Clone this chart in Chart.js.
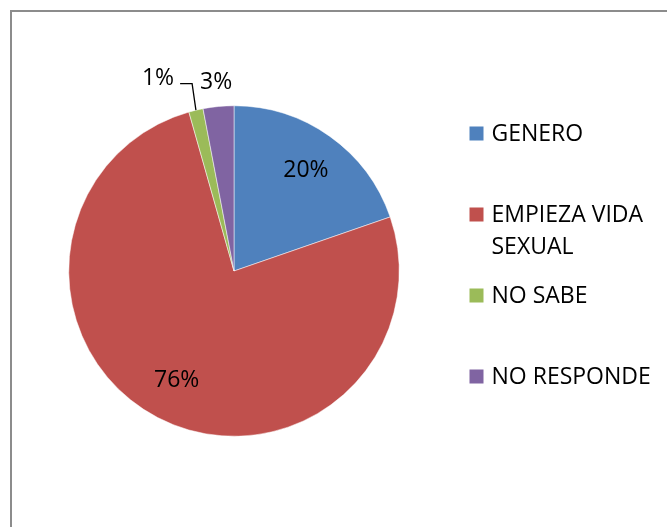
<!DOCTYPE html>
<html>
<head>
<meta charset="utf-8">
<script src="https://cdn.jsdelivr.net/npm/chart.js@4/dist/chart.umd.min.js"></script>
<style>
  html, body { margin: 0; padding: 0; background: #fff; overflow: hidden; }
  #wrap { position: relative; width: 667px; height: 527px; }
  #frame {
    position: absolute; left: 10px; top: 10px; width: 720px; height: 600px;
    border: 2px solid #8c8c8c; box-sizing: border-box;
  }
  canvas { position: absolute; left: 0; top: 0; }
</style>
</head>
<body>
<div id="wrap">
  <div id="frame"></div>
  <canvas id="chart" width="667" height="527" aria-label="Pie chart" role="img"></canvas>
</div>
<script>
const categories = ['GENERO', 'EMPIEZA VIDA SEXUAL', 'NO SABE', 'NO RESPONDE'];
const shares = [19.7, 75.9, 1.4, 3.0];
const colors = ['#4f81bd', '#c0504d', '#9bbb59', '#8064a2'];

const FONT = '23px "Open Sans", "Noto Sans", sans-serif';

const wrapText = (ctx, text, maxWidth) => {
  const words = text.split(' ');
  const lines = [];
  let line = '';
  words.forEach((w) => {
    const test = line ? line + ' ' + w : w;
    if (line && ctx.measureText(test).width > maxWidth) {
      lines.push(line);
      line = w;
    } else {
      line = test;
    }
  });
  if (line) lines.push(line);
  return lines;
};

// percentage labels, inside for big slices and outside (with leader) for tiny ones
const sliceLabels = {
  id: 'sliceLabels',
  afterDatasetsDraw(chart) {
    const ctx = chart.ctx;
    const data = chart.data.datasets[0].data;
    const total = data.reduce((a, b) => a + b, 0);
    const arcs = chart.getDatasetMeta(0).data;
    const placed = [];
    ctx.save();
    ctx.font = FONT;
    ctx.fillStyle = '#000';
    ctx.textAlign = 'center';
    ctx.textBaseline = 'middle';
    // walk backwards so the later tiny slice keeps its spot
    for (let i = arcs.length - 1; i >= 0; i--) {
      const { x, y, startAngle, endAngle, outerRadius } =
        arcs[i].getProps(['x', 'y', 'startAngle', 'endAngle', 'outerRadius'], true);
      const mid = (startAngle + endAngle) / 2;
      const pct = data[i] / total * 100;
      const text = Math.round(pct) + '%';
      if (pct >= 5) {
        const r = outerRadius * 0.75;
        ctx.fillText(text, x + Math.cos(mid) * r, y + Math.sin(mid) * r);
        continue;
      }
      const r = outerRadius + 24;
      let lx = x + Math.cos(mid) * r;
      let ly = y + Math.sin(mid) * r;
      const w = ctx.measureText(text).width;
      let moved = false;
      placed.forEach((b) => {
        if (Math.abs(ly - b.y) < 24 && lx + w / 2 > b.left - 20) {
          lx = b.left - 26 - w / 2;
          ly = b.y - 4;
          moved = true;
        }
      });
      ctx.fillText(text, lx, ly);
      placed.push({ left: lx - w / 2, y: ly });
      if (moved) {
        const ex = x + Math.cos(mid) * outerRadius;
        const ey = y + Math.sin(mid) * outerRadius;
        const sx = lx + w / 2 + 6;
        ctx.beginPath();
        ctx.strokeStyle = '#000';
        ctx.lineWidth = 1.3;
        ctx.moveTo(sx, ly + 5);
        ctx.lineTo(sx + 12, ly + 5);
        ctx.lineTo(ex, ey);
        ctx.stroke();
      }
    }
    ctx.restore();
  },
};

// legend on the right, one entry every 81px, wrapped text
const sideLegend = {
  id: 'sideLegend',
  afterDraw(chart) {
    const ctx = chart.ctx;
    const area = chart.chartArea;
    const boxX = area.right + 70;
    const textX = boxX + 22;
    let cy = area.top + 28;
    ctx.save();
    ctx.font = FONT;
    ctx.textAlign = 'left';
    ctx.textBaseline = 'middle';
    chart.data.labels.forEach((label, i) => {
      ctx.fillStyle = colors[i];
      ctx.fillRect(boxX, cy - 7, 14, 14);
      ctx.fillStyle = '#000';
      wrapText(ctx, label, 172).forEach((ln, j) => {
        ctx.fillText(ln, textX, cy + 1 + j * 32);
      });
      cy += 81;
    });
    ctx.restore();
  },
};

new Chart(document.getElementById('chart'), {
  type: 'pie',
  data: {
    labels: categories,
    datasets: [{
      data: shares,
      backgroundColor: colors,
      borderColor: '#ffffff',
      borderWidth: 0.5,
    }],
  },
  options: {
    responsive: false,
    animation: false,
    devicePixelRatio: 1,
    layout: { padding: { left: 68.5, top: 105.5, right: 267.5, bottom: 90.5 } },
    plugins: {
      legend: { display: false },
      tooltip: { enabled: false },
    },
  },
  plugins: [sliceLabels, sideLegend],
});
</script>
</body>
</html>
